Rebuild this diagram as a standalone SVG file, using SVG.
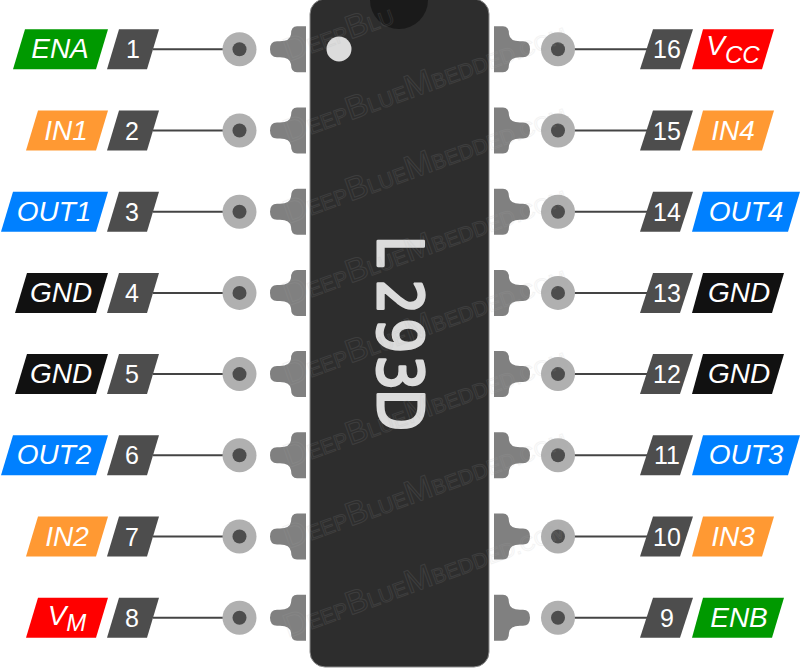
<svg xmlns="http://www.w3.org/2000/svg" width="800" height="670" viewBox="0 0 800 670">
<style>
.lab{font-family:"Liberation Sans",Arial,sans-serif;font-style:italic;font-size:28px;fill:#fff;text-anchor:middle}
.sub{font-size:24px}
.num{font-family:"Liberation Sans",Arial,sans-serif;font-size:25px;fill:#fff;text-anchor:middle}
.dk{fill:#4d4d4d}.gr{fill:#009900}.or{fill:#ff9933}.bl{fill:#0080ff}.bk{fill:#111}.rd{fill:#ff0000}
.stub{fill:#808080}
.ring{fill:#b0b0b0}.hole{fill:#4d4d4d}
#connectors line{stroke:#444;stroke-width:2}
.wm{font-family:"Liberation Sans",Arial,sans-serif;font-size:21px;fill:none;stroke:#aaa;stroke-width:1;opacity:.13}
.wm .big{font-size:33px}
</style>
<defs>
<path id="stubL" class="stub" d="M306,-23H297Q291,-23 291,-15Q290,-8 280,-8H277Q270,-8 270,0Q270,8 277,8H280Q290,8 291,15Q291,23 297,23H306Z"/>
<path id="stubR" class="stub" d="M494,-23H503Q509,-23 509,-15Q510,-8 520,-8H523Q530,-8 530,0Q530,8 523,8H520Q510,8 509,15Q509,23 503,23H494Z"/>
<g id="padL"><circle class="ring" cx="239.5" r="17"/><circle class="hole" cx="239.5" r="7"/></g>
<g id="padR"><circle class="ring" cx="558" r="17"/><circle class="hole" cx="558" r="7"/></g>
<polygon id="numL" class="dk" points="119,-20 159,-20 147,20 107,20"/>
<polygon id="numR" class="dk" points="653,-20 693,-20 680,20 640,20"/>
</defs>
<rect width="800" height="670" fill="#fff"/>
<g id="connectors">
<line x1="153" x2="224" y1="49.3" y2="49.3"/><line x1="153" x2="224" y1="130.5" y2="130.5"/><line x1="153" x2="224" y1="211.7" y2="211.7"/><line x1="153" x2="224" y1="292.9" y2="292.9"/><line x1="153" x2="224" y1="374.1" y2="374.1"/><line x1="153" x2="224" y1="455.3" y2="455.3"/><line x1="153" x2="224" y1="536.5" y2="536.5"/><line x1="153" x2="224" y1="617.7" y2="617.7"/>
<line x1="574" x2="648" y1="49.3" y2="49.3"/><line x1="574" x2="648" y1="130.5" y2="130.5"/><line x1="574" x2="648" y1="211.7" y2="211.7"/><line x1="574" x2="648" y1="292.9" y2="292.9"/><line x1="574" x2="648" y1="374.1" y2="374.1"/><line x1="574" x2="648" y1="455.3" y2="455.3"/><line x1="574" x2="648" y1="536.5" y2="536.5"/><line x1="574" x2="648" y1="617.7" y2="617.7"/>
</g>
<g id="chip">
<rect x="310" y="-1" width="179" height="668" rx="15" fill="#2d2d2d" stroke="#8a8a8a" stroke-width="1"/>
<path d="M370,0A29,29 0 0 0 428,0Z" fill="#1a1a1a"/>
<circle cx="339" cy="49" r="12.5" fill="#dcdcdc"/>
<text transform="translate(378,0) rotate(90) scale(.88,1)" x="268 317.6 362 404 442" font-family="'DejaVu Sans',sans-serif" font-size="62" fill="#dcdcdc" stroke="#dcdcdc" stroke-width="3" stroke-linejoin="round">L293D</text>
</g>
<g id="pin1" transform="translate(0,49.3)"><polygon class="gr" points="25,-20 108,-20 96,20 13,20"/><text class="lab" x="60" y="9">ENA</text><use href="#numL"/><text class="num" x="133" y="9">1</text><use href="#padL"/><use href="#stubL"/></g>
<g id="pin2" transform="translate(0,130.5)"><polygon class="or" points="38,-20 108,-20 96,20 26,20"/><text class="lab" x="66" y="9">IN1</text><use href="#numL"/><text class="num" x="132" y="9">2</text><use href="#padL"/><use href="#stubL"/></g>
<g id="pin3" transform="translate(0,211.7)"><polygon class="bl" points="13,-20 108,-20 96,20 1,20"/><text class="lab" x="54" y="9">OUT1</text><use href="#numL"/><text class="num" x="132" y="9">3</text><use href="#padL"/><use href="#stubL"/></g>
<g id="pin4" transform="translate(0,292.9)"><polygon class="bk" points="27,-20 108,-20 96,20 15,20"/><text class="lab" x="61" y="9">GND</text><use href="#numL"/><text class="num" x="132" y="9">4</text><use href="#padL"/><use href="#stubL"/></g>
<g id="pin5" transform="translate(0,374.1)"><polygon class="bk" points="27,-20 108,-20 96,20 15,20"/><text class="lab" x="61" y="9">GND</text><use href="#numL"/><text class="num" x="132" y="9">5</text><use href="#padL"/><use href="#stubL"/></g>
<g id="pin6" transform="translate(0,455.3)"><polygon class="bl" points="13,-20 108,-20 96,20 1,20"/><text class="lab" x="54" y="9">OUT2</text><use href="#numL"/><text class="num" x="132" y="9">6</text><use href="#padL"/><use href="#stubL"/></g>
<g id="pin7" transform="translate(0,536.5)"><polygon class="or" points="38,-20 108,-20 96,20 26,20"/><text class="lab" x="67" y="9">IN2</text><use href="#numL"/><text class="num" x="132" y="9">7</text><use href="#padL"/><use href="#stubL"/></g>
<g id="pin8" transform="translate(0,617.7)"><polygon class="rd" points="38,-20 108,-20 96,20 26,20"/><text class="lab" x="67" y="7">V<tspan class="sub" dy="6">M</tspan></text><use href="#numL"/><text class="num" x="132" y="9">8</text><use href="#padL"/><use href="#stubL"/></g>
<g id="pin16" transform="translate(0,49.3)"><use href="#stubR"/><use href="#padR"/><use href="#numR"/><text class="num" x="667" y="9">16</text><polygon class="rd" points="703,-20 774,-20 762,20 692,20"/><text class="lab" x="733" y="6">V<tspan class="sub" dy="8">CC</tspan></text></g>
<g id="pin15" transform="translate(0,130.5)"><use href="#stubR"/><use href="#padR"/><use href="#numR"/><text class="num" x="667" y="9">15</text><polygon class="or" points="703,-20 774,-20 762,20 692,20"/><text class="lab" x="733" y="9">IN4</text></g>
<g id="pin14" transform="translate(0,211.7)"><use href="#stubR"/><use href="#padR"/><use href="#numR"/><text class="num" x="667" y="9">14</text><polygon class="bl" points="703,-20 800,-20 788,20 692,20"/><text class="lab" x="746" y="9">OUT4</text></g>
<g id="pin13" transform="translate(0,292.9)"><use href="#stubR"/><use href="#padR"/><use href="#numR"/><text class="num" x="667" y="9">13</text><polygon class="bk" points="703,-20 784,-20 772,20 692,20"/><text class="lab" x="739" y="9">GND</text></g>
<g id="pin12" transform="translate(0,374.1)"><use href="#stubR"/><use href="#padR"/><use href="#numR"/><text class="num" x="667" y="9">12</text><polygon class="bk" points="703,-20 784,-20 772,20 692,20"/><text class="lab" x="739" y="9">GND</text></g>
<g id="pin11" transform="translate(0,455.3)"><use href="#stubR"/><use href="#padR"/><use href="#numR"/><text class="num" x="667" y="9">11</text><polygon class="bl" points="703,-20 800,-20 788,20 692,20"/><text class="lab" x="746" y="9">OUT3</text></g>
<g id="pin10" transform="translate(0,536.5)"><use href="#stubR"/><use href="#padR"/><use href="#numR"/><text class="num" x="667" y="9">10</text><polygon class="or" points="703,-20 774,-20 762,20 692,20"/><text class="lab" x="733" y="9">IN3</text></g>
<g id="pin9" transform="translate(0,617.7)"><use href="#stubR"/><use href="#padR"/><use href="#numR"/><text class="num" x="667" y="9">9</text><polygon class="gr" points="703,-20 784,-20 772,20 692,20"/><text class="lab" x="739" y="9">ENB</text></g>
<g id="watermark">
<text class="wm" transform="translate(288,62) rotate(-20)"><tspan class="big">D</tspan>EEP<tspan class="big">B</tspan>LU</text>
<text class="wm" transform="translate(288,143) rotate(-20)"><tspan class="big">D</tspan>EEP<tspan class="big">B</tspan>LUE<tspan class="big">M</tspan>BEDDED.COM</text>
<text class="wm" transform="translate(288,224) rotate(-20)"><tspan class="big">D</tspan>EEP<tspan class="big">B</tspan>LUE<tspan class="big">M</tspan>BEDDED.COM</text>
<text class="wm" transform="translate(288,306) rotate(-20)"><tspan class="big">D</tspan>EEP<tspan class="big">B</tspan>LUE<tspan class="big">M</tspan>BEDDED.COM</text>
<text class="wm" transform="translate(288,386) rotate(-20)"><tspan class="big">D</tspan>EEP<tspan class="big">B</tspan>LUE<tspan class="big">M</tspan>BEDDED.COM</text>
<text class="wm" transform="translate(288,468) rotate(-20)"><tspan class="big">D</tspan>EEP<tspan class="big">B</tspan>LUE<tspan class="big">M</tspan>BEDDED.COM</text>
<text class="wm" transform="translate(288,549) rotate(-20)"><tspan class="big">D</tspan>EEP<tspan class="big">B</tspan>LUE<tspan class="big">M</tspan>BEDDED.COM</text>
<text class="wm" transform="translate(288,638) rotate(-20)"><tspan class="big">D</tspan>EEP<tspan class="big">B</tspan>LUE<tspan class="big">M</tspan>BEDDED.COM</text>
</g>
</svg>
